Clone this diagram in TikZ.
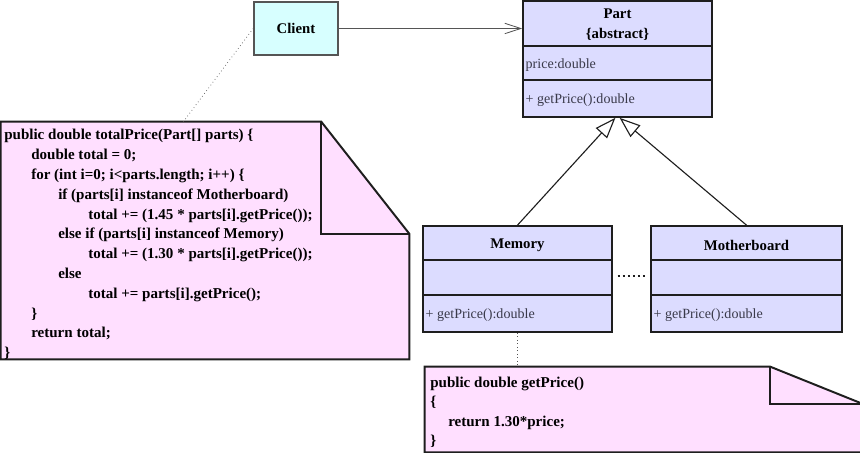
\documentclass[tikz,border=0pt]{standalone}
\usepackage{fontspec}
\setmainfont{Liberation Serif}
\usetikzlibrary{arrows.meta,calc}
\definecolor{clientfill}{HTML}{D7FFFF}
\definecolor{classfill}{HTML}{DCDCFF}
\definecolor{notefill}{HTML}{FFDFFF}
\definecolor{edge}{HTML}{1E1E1E}
\definecolor{wire}{HTML}{555555}
\definecolor{membertext}{HTML}{3A3A4A}
\tikzset{
  clientbox/.style={draw=wire, line width=1.1pt, fill=clientfill, minimum width=2.1cm,
    minimum height=1.325cm, inner sep=0pt, font=\bfseries\fontsize{10.5}{12}\selectfont},
  classbox/.style={draw=edge, line width=1.2pt, fill=classfill, minimum width=4.725cm,
    minimum height=2.65cm, inner sep=0pt},
  classline/.style={draw=edge, line width=1.2pt},
  title/.style={font=\bfseries\fontsize{10.5}{12}\selectfont, inner sep=0pt},
  member/.style={font=\fontsize{10}{12}\selectfont, text=membertext, anchor=west, inner sep=1pt},
  notearea/.style={draw=none, inner sep=0pt},
  notebody/.style={draw=edge, line width=1.4pt, fill=notefill, line join=miter},
  code/.style={font=\bfseries\fontsize{10.7}{14.1}\selectfont, align=left, anchor=north west, inner sep=0pt},
  assoc/.style={draw=wire, line width=0.6pt, -{Straight Barb[length=0.4cm,width=0.26cm]}},
  inherit/.style={draw=edge, line width=0.8pt, -{Triangle[open,fill=white,length=0.52cm,width=0.38cm]}},
  notelink/.style={draw=wire, line width=0.5pt, dotted},
  sepdots/.style={draw=edge, line width=1.4pt, dash pattern=on 1.4pt off 2.2pt, shorten <=0.12cm, shorten >=0.1cm}
}
\begin{document}
\begin{tikzpicture}
  \useasboundingbox (0,0) rectangle (21.5,11.325);

  % classes
  \node[clientbox] (client) at (7.4,10.6125) {Client};
  \node[classbox, minimum height=2.9cm] (part) at (15.4375,9.85) {};
  \node[classbox] (memory) at (12.9375,4.35) {};
  \node[classbox, minimum width=4.775cm] (mboard) at (18.6625,4.35) {};
  \draw[classline] ($(part.north west)+(0,-1.15)$) -- ($(part.north east)+(0,-1.15)$);
  \draw[classline] ($(part.north west)+(0,-2.0)$) -- ($(part.north east)+(0,-2.0)$);
  \foreach \c in {memory,mboard} {
    \draw[classline] ($(\c.north west)+(0,-0.875)$) -- ($(\c.north east)+(0,-0.875)$);
    \draw[classline] ($(\c.north west)+(0,-1.75)$) -- ($(\c.north east)+(0,-1.75)$);
  }
  \node[title] (parttitle) at (15.4375,10.975) {Part};
  \node[title] (partstereo) at (15.4375,10.475) {\{abstract\}};
  \node[member] (partattr) at (13.1,9.7) {price:double};
  \node[member] (partop) at (13.1,8.825) {+ getPrice():double};
  \node[title] (memtitle) at (12.9375,5.2) {Memory};
  \node[member] (memop) at (10.6,3.45) {+ getPrice():double};
  \node[title] (mbtitle) at (18.6625,5.2) {Motherboard};
  \node[member] (mbop) at (16.3,3.45) {+ getPrice():double};

  % notes
  \node[notearea, minimum width=10.2cm, minimum height=5.925cm] (totalnote) at (5.125,5.3125) {};
  \draw[notebody] (totalnote.north west) -- ($(totalnote.north east)+(-2.2,0)$)
    -- ($(totalnote.north east)+(0,-2.8)$) -- (totalnote.south east) -- (totalnote.south west) -- cycle;
  \draw[notebody, fill=none] ($(totalnote.north east)+(-2.2,0)$) -- ++(0,-2.8) -- ($(totalnote.north east)+(0,-2.8)$);
  \node[code] (totalcode) at (0.1,8.1) {public double totalPrice(Part[] parts) \{\\
    \hspace*{0.675cm}double total = 0;\\
    \hspace*{0.675cm}for (int i=0; i<parts.length; i++) \{\\
    \hspace*{1.35cm}if (parts[i] instanceof Motherboard)\\
    \hspace*{2.1cm}total += (1.45 * parts[i].getPrice());\\
    \hspace*{1.35cm}else if (parts[i] instanceof Memory)\\
    \hspace*{2.1cm}total += (1.30 * parts[i].getPrice());\\
    \hspace*{1.35cm}else\\
    \hspace*{2.1cm}total += parts[i].getPrice();\\
    \hspace*{0.675cm}\}\\
    \hspace*{0.675cm}return total;\\
    \}};

  \node[notearea, minimum width=10.925cm, minimum height=2.125cm] (pricenote) at (16.0875,1.0875) {};
  \draw[notebody] (pricenote.north west) -- ($(pricenote.north east)+(-2.3,0)$)
    -- ($(pricenote.north east)+(0,-0.925)$) -- (pricenote.south east) -- (pricenote.south west) -- cycle;
  \draw[notebody, fill=none] ($(pricenote.north east)+(-2.3,0)$) -- ++(0,-0.925) -- ($(pricenote.north east)+(0,-0.925)$);
  \node[code, font=\bfseries\fontsize{10.7}{13.7}\selectfont] (pricecode) at (10.75,1.9) {public double getPrice()\\
    \{\\
    \hspace*{0.45cm}return 1.30*price;\\
    \}};

  % connectors
  \draw[assoc] (client) -- (client -| part.west);
  \draw[inherit] (memory.north) -- ([xshift=-1.5pt]part.south);
  \draw[inherit] (mboard.north) -- ([xshift=1.5pt]part.south);
  \draw[sepdots] ([yshift=2pt]memory.east) -- ([yshift=2pt]mboard.west);
  \draw[notelink] (client.west) -- ($(totalnote.north west)!0.447!(totalnote.north east)$);
  \draw[notelink] (memory.south) -- (memory.south |- pricenote.north);
\end{tikzpicture}
\end{document}
